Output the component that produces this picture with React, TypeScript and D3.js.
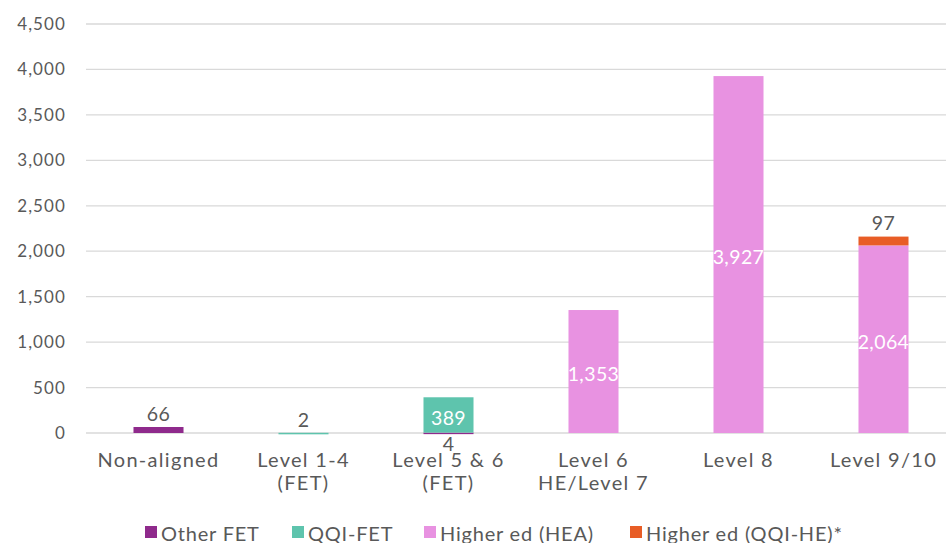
import React, { useEffect, useRef } from 'react';
import * as d3 from 'd3';

const categories = ['Non-aligned', 'Level 1-4\n(FET)', 'Level 5 & 6\n(FET)', 'Level 6\nHE/Level 7', 'Level 8', 'Level 9/10'];
const seriesNames = ['Other FET', 'QQI-FET', 'Higher ed (HEA)', 'Higher ed (QQI-HE)*'];
const otherFet = [66, 0, 4, 0, 0, 0];
const qqiFet = [0, 2, 389, 0, 0, 0];
const hea = [0, 0, 0, 1353, 3927, 2064];
const qqiHe = [0, 0, 0, 0, 0, 97];
const yTicks = [0, 500, 1000, 1500, 2000, 2500, 3000, 3500, 4000, 4500];
const colors = ['#8f2a8c', '#5ec4ad', '#e892e1', '#e85d26'];

const App = () => {
  const svgRef = useRef(null);

  useEffect(() => {
    const width = 946;
    const height = 543;
    const svg = d3.select(svgRef.current).attr('width', width).attr('height', height);
    svg.selectAll('*').remove();

    const font = 'Lato, "Open Sans", sans-serif';
    const textColor = '#595959';

    const x = d3.scaleBand().domain(categories).range([86, 956]).paddingInner(0.655).paddingOuter(0.3275);
    const y = d3.scaleLinear().domain([0, 4500]).range([433, 24]);

    // gridlines
    svg
      .append('g')
      .selectAll('line')
      .data(yTicks)
      .join('line')
      .attr('x1', 86)
      .attr('x2', width)
      .attr('y1', (d) => y(d))
      .attr('y2', (d) => y(d))
      .attr('stroke', '#d9d9d9')
      .attr('stroke-width', 1.3);

    svg
      .append('g')
      .selectAll('text')
      .data(yTicks)
      .join('text')
      .attr('x', 66)
      .attr('y', (d) => y(d))
      .attr('dy', '0.35em')
      .attr('text-anchor', 'end')
      .attr('font-family', font)
      .attr('font-size', 17)
      .attr('letter-spacing', 1.1)
      .attr('fill', textColor)
      .text((d) => d3.format(',')(d));

    const rows = categories.map((c, i) => ({
      cat: c,
      s0: otherFet[i],
      s1: qqiFet[i],
      s2: hea[i],
      s3: qqiHe[i],
    }));
    const stack = d3.stack().keys(['s0', 's1', 's2', 's3']);
    const layers = stack(rows);

    layers.forEach((layer, li) => {
      svg
        .append('g')
        .selectAll('rect')
        .data(layer.filter((d) => d[1] - d[0] > 0))
        .join('rect')
        .attr('x', (d) => x(d.data.cat))
        .attr('width', x.bandwidth())
        .attr('y', (d) => y(d[1]))
        .attr('height', (d) => Math.max(y(d[0]) - y(d[1]), 1.5))
        .attr('fill', colors[li]);
    });

    // data labels
    const labels = [];
    layers.forEach((layer) => {
      layer.forEach((d) => {
        const v = d[1] - d[0];
        if (v <= 0) return;
        const cx = x(d.data.cat) + x.bandwidth() / 2;
        if (v > 300) {
          labels.push({ x: cx, y: y((d[0] + d[1]) / 2) + 3, text: d3.format(',')(v), fill: '#ffffff' });
        } else if (v === 4) {
          labels.push({ x: cx, y: y(d[0]) + 11, text: d3.format(',')(v), fill: textColor });
        } else {
          labels.push({ x: cx, y: y(d[1]) - 13, text: d3.format(',')(v), fill: textColor });
        }
      });
    });

    svg
      .append('g')
      .selectAll('text')
      .data(labels)
      .join('text')
      .attr('x', (d) => d.x)
      .attr('y', (d) => d.y)
      .attr('dy', '0.35em')
      .attr('text-anchor', 'middle')
      .attr('font-family', font)
      .attr('font-size', 19.5)
      .attr('letter-spacing', 0.4)
      .attr('fill', (d) => d.fill)
      .text((d) => d.text);

    // category labels
    const catG = svg
      .append('g')
      .selectAll('text')
      .data(categories)
      .join('text')
      .attr('x', (d) => x(d) + x.bandwidth() / 2)
      .attr('y', 467)
      .attr('text-anchor', 'middle')
      .attr('font-family', font)
      .attr('font-size', 20)
      .attr('letter-spacing', 1.3)
      .attr('fill', textColor);
    catG
      .selectAll('tspan')
      .data((d) => d.split('\n').map((t) => ({ t, cx: x(d) + x.bandwidth() / 2 })))
      .join('tspan')
      .attr('x', (d) => d.cx)
      .attr('dy', (d, i) => (i === 0 ? 0 : 23))
      .text((d) => d.t);

    // legend
    const legendX = [145, 292, 424, 630];
    const lg = svg
      .append('g')
      .selectAll('g')
      .data(seriesNames)
      .join('g')
      .attr('transform', (d, i) => `translate(${legendX[i]},0)`);
    lg.append('rect').attr('x', 0).attr('y', 526).attr('width', 12).attr('height', 12).attr('fill', (d, i) => colors[i]);
    lg.append('text')
      .attr('x', 16)
      .attr('y', 541)
      .attr('font-family', font)
      .attr('font-size', 20)
      .attr('letter-spacing', 0.8)
      .attr('fill', textColor)
      .text((d) => d);
  }, []);

  return <svg ref={svgRef} style={{ position: 'absolute', left: 0, top: 0 }}></svg>;
};

export default App;
